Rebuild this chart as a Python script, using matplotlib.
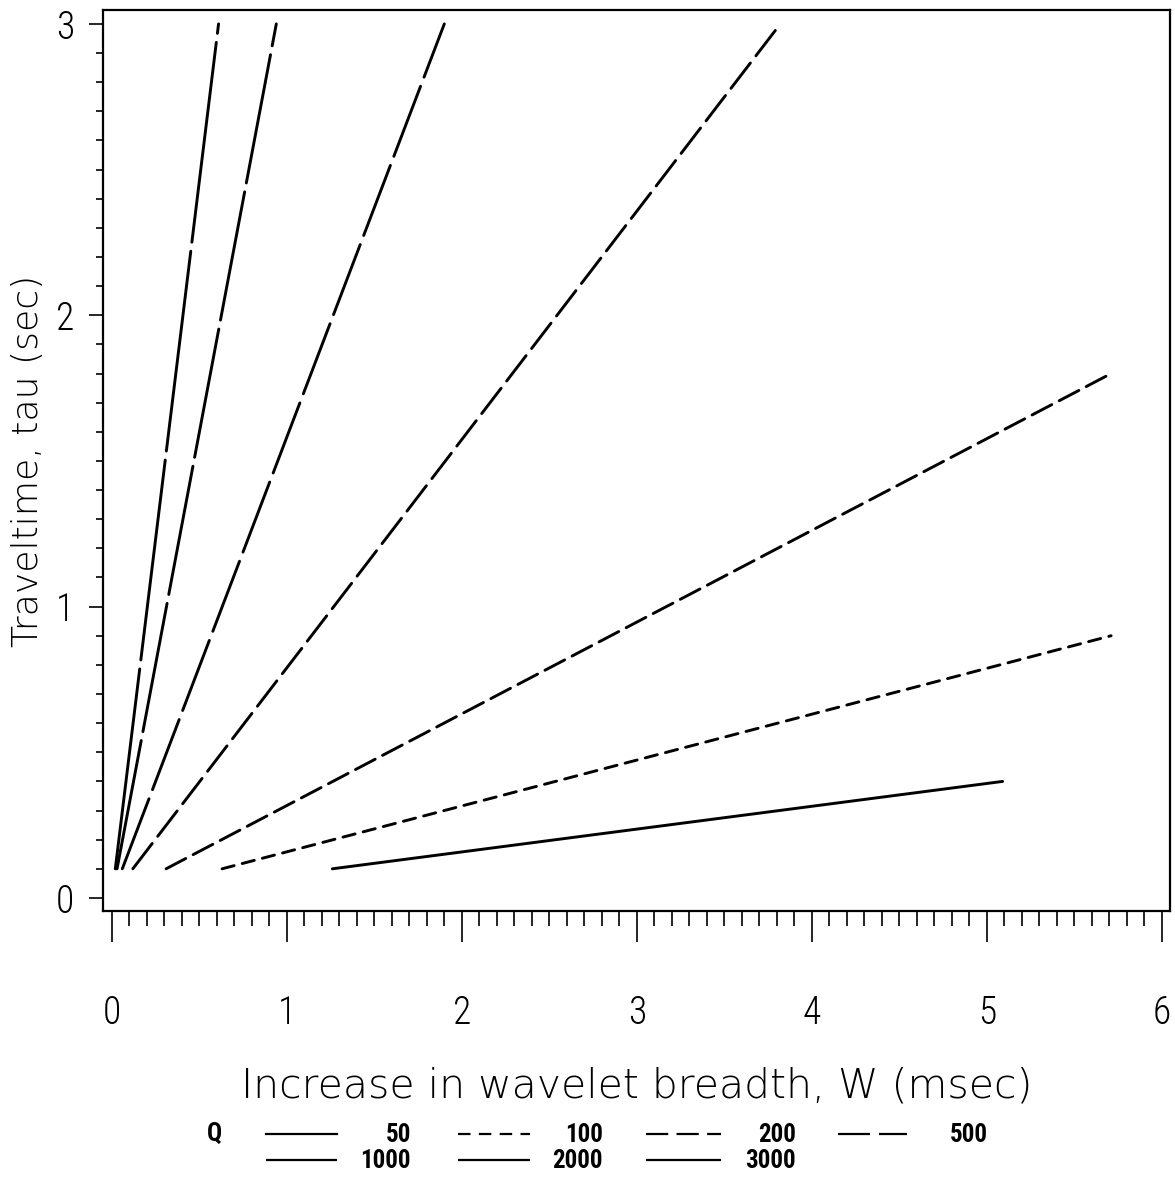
import numpy as np
import matplotlib
matplotlib.use("Agg")
import matplotlib.pyplot as plt
from matplotlib.lines import Line2D
from matplotlib.ticker import MultipleLocator

plt.rcParams['lines.scale_dashes'] = False

# Q values and line end points (W in msec, tau in sec)
q_values = [50, 100, 200, 500, 1000, 2000, 3000]
w_start = [1.26, 0.63, 0.31, 0.12, 0.06, 0.03, 0.02]
w_end = [5.09, 5.71, 5.71, 3.82, 1.90, 0.94, 0.61]
tau_start = [0.1, 0.1, 0.1, 0.1, 0.1, 0.1, 0.1]
tau_end = [0.4, 0.9, 1.8, 3.0, 3.0, 3.0, 3.0]

# dash patterns in points
dash_styles = [None, (9, 6), (16, 6), (23, 6.5), (54, 7), (94, 6.5), (145, 6.5)]

label_font = ['DejaVu Sans']
tick_font = ['Roboto Condensed', 'DejaVu Sans']

fig = plt.figure(figsize=(11.75, 11.78), dpi=100)
ax = fig.add_axes([0.0877, 0.2267, 0.9080, 0.7649])

for i, q in enumerate(q_values):
    ln, = ax.plot([w_start[i], w_end[i]], [tau_start[i], tau_end[i]],
                  color='black', lw=2.1, solid_capstyle='round',
                  dash_capstyle='round')
    if dash_styles[i] is not None:
        ln.set_dashes(dash_styles[i])

ax.set_xlim(-0.05, 6.046)
ax.set_ylim(-0.0446, 3.048)

for s in ax.spines.values():
    s.set_linewidth(1.6)

ax.xaxis.set_major_locator(MultipleLocator(1))
ax.xaxis.set_minor_locator(MultipleLocator(0.1))
ax.yaxis.set_major_locator(MultipleLocator(1))
ax.yaxis.set_minor_locator(MultipleLocator(0.1))
ax.tick_params(axis='x', which='major', direction='out', length=22, width=1.2,
               pad=38)
ax.tick_params(axis='x', which='minor', direction='out', length=11, width=1.2)
ax.tick_params(axis='y', which='major', direction='out', length=10, width=1.2,
               pad=11)
ax.tick_params(axis='y', which='minor', direction='out', length=5, width=1.2)

for lab in ax.get_xticklabels() + ax.get_yticklabels():
    lab.set_family(tick_font)
    lab.set_fontweight('light')
    lab.set_fontsize(27)

ax.set_xlabel('Increase in wavelet breadth, W (msec)', family=label_font,
              fontsize=29.5, fontweight='light', labelpad=25)
ax.set_ylabel('Traveltime, tau (sec)', family=label_font, fontsize=26,
              fontweight='light')
ax.yaxis.set_label_coords(-0.054, 0.5)

# legend drawn below the axes
W, H = 1175.0, 1178.0
def fx(px):
    return px / W
def fy(py):
    return 1 - py / H

leg_font = dict(family=tick_font, fontsize=18, fontweight='bold',
                va='center', ha='right')
fig.text(fx(214), fy(1134), 'Q', family=tick_font, fontsize=18,
         fontweight='bold', va='center', ha='center')

rows_y = [1134, 1160]
line_x = [(266, 337), (458, 530), (646, 721), (838, 907)]
label_right = [411, 603, 796, 988]
slots = [(0, 0), (0, 1), (0, 2), (0, 3), (1, 0), (1, 1), (1, 2)]
for i, q in enumerate(q_values):
    r, c = slots[i]
    x0, x1 = line_x[c]
    lg = Line2D([fx(x0), fx(x1)], [fy(rows_y[r]), fy(rows_y[r])],
                transform=fig.transFigure, color='black', lw=1.6)
    if dash_styles[i] is not None:
        lg.set_dashes(dash_styles[i])
    fig.add_artist(lg)
    fig.text(fx(label_right[c]), fy(rows_y[r] + 1), str(q), **leg_font)

fig.savefig('out.png', dpi=100)
